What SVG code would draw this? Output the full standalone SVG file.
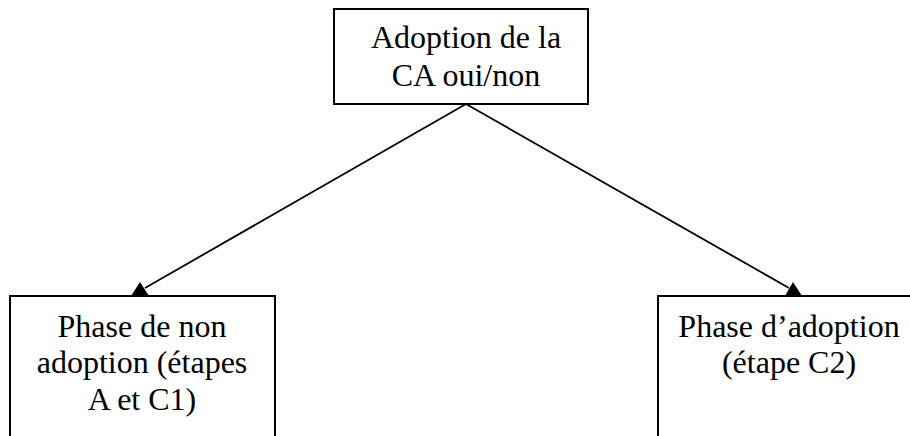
<svg xmlns="http://www.w3.org/2000/svg" width="910" height="436" viewBox="0 0 910 436">
<style>
.box{fill:#fff;stroke:#000;stroke-width:2}
.t{font-family:"Liberation Serif","Times New Roman",serif;font-size:32px;fill:#000;text-anchor:middle}
.c{stroke:#000;stroke-width:1.8;fill:none}
.ah{fill:#000}
</style>
<g id="n-top">
<rect class="box" x="334" y="9" width="254" height="95"/>
<text class="t" x="466" y="48">Adoption de la</text>
<text class="t" x="466" y="86">CA oui/non</text>
</g>
<g id="n-left">
<rect class="box" x="10" y="296" width="265" height="150"/>
<text class="t" x="142" y="337">Phase de non</text>
<text class="t" x="142" y="373">adoption (étapes</text>
<text class="t" x="142" y="410">A et C1)</text>
</g>
<g id="n-right">
<rect class="box" x="658" y="296" width="270" height="150"/>
<text class="t" x="789" y="337">Phase d’adoption</text>
<text class="t" x="789" y="373">(étape C2)</text>
</g>
<g id="connectors">
<path class="c" d="M466,104 L145,288"/>
<polygon class="ah" points="140,282 131,296 149,296"/>
<path class="c" d="M466,104 L789,288"/>
<polygon class="ah" points="793,282 785,296 802,296"/>
</g>
</svg>
